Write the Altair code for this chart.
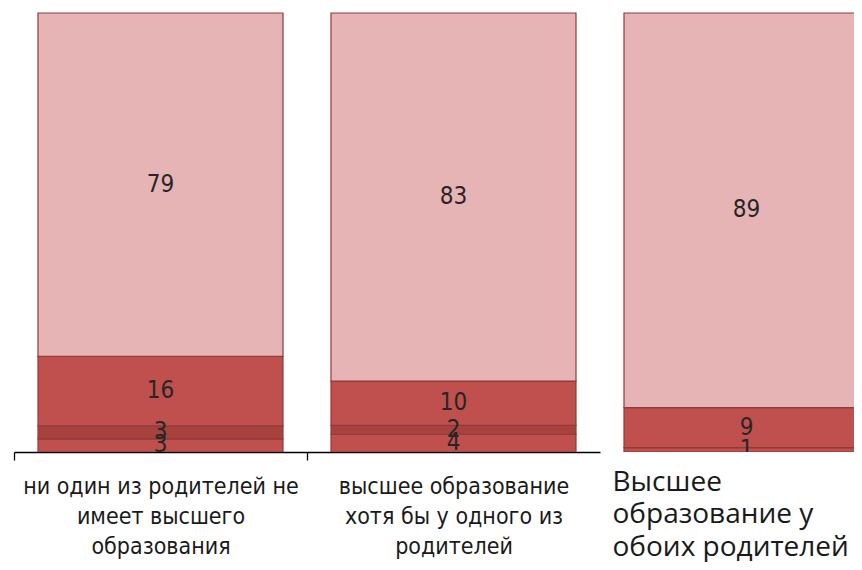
import altair as alt
import pandas as pd

# Categories (axis labels, "|" marks a line break)
categories = [
    "ни один из родителей не|имеет высшего|образования",
    "высшее образование|хотя бы у одного из|родителей",
    "Высшее|образование у|обоих родителей",
]
# Series from bottom to top of each bar
series = ["s1", "s2", "s3", "s4"]
s1 = [3, 4, 1]
s2 = [3, 2, 0]
s3 = [16, 10, 9]
s4 = [79, 83, 89]
colors = ["#C0504D", "#A8423F", "#C0504D", "#E6B4B5"]

rows = []
for i, c in enumerate(categories):
    for k, vals in enumerate([s1, s2, s3, s4]):
        rows.append({"cat": c, "series": series[k], "order": k, "value": vals[i]})
df = pd.DataFrame(rows)
df = df[df["value"] > 0]

NARROW = "DejaVu Sans Condensed, DejaVu Sans, sans-serif"
WIDE = "Open Sans, Liberation Sans, sans-serif"

PI = 48 / 293
PO = 24 / 293
xscale = alt.Scale(domain=categories, range=[6, 885], paddingInner=PI, paddingOuter=PO)
yscale = alt.Scale(domain=[0, 1], range=[444, 5], nice=False, zero=True)

base = (
    alt.Chart(df)
    .transform_joinaggregate(total="sum(value)", groupby=["cat"])
    .transform_window(cum="sum(value)", sort=[alt.SortField("order")], groupby=["cat"], frame=[None, 0])
    .transform_calculate(
        y0="(datum.cum - datum.value) / datum.total",
        y1="datum.cum / datum.total",
        ymid="(datum.cum - datum.value / 2) / datum.total",
    )
)

axis_a = alt.Axis(
    title=None, orient="bottom", domain=False, ticks=False, tickSize=0, grid=False,
    labelExpr=f"datum.value === '{categories[2]}' ? split(datum.value, '|') : ''",
    labelAlign="left", labelOffset=-134, labelAngle=0,
    labelFont=WIDE, labelFontSize=28, labelColor="#1a1a1a",
    labelLineHeight=32.5, labelBaseline="alphabetic", labelPadding=38,
    labelLimit=0, labelOverlap=False,
)

bars = base.mark_bar(stroke="#8E3B3A", strokeWidth=1.2, clip=True).encode(
    x=alt.X("cat:N", scale=xscale, sort=categories, axis=axis_a),
    y=alt.Y("y0:Q", scale=yscale, axis=None),
    y2="y1:Q",
    color=alt.Color("series:N", scale=alt.Scale(domain=series, range=colors), legend=None),
)

text12 = base.transform_filter(alt.FieldOneOfPredicate(field="cat", oneOf=categories[:2])).mark_text(
    font=NARROW, fontSize=24, color="#262626"
).encode(
    x=alt.X("cat:N", scale=xscale, sort=categories, axis=None),
    y=alt.Y("ymid:Q", scale=yscale, axis=None),
    text="value:Q",
)

text3 = base.transform_filter(alt.FieldEqualPredicate(field="cat", equal=categories[2])).mark_text(
    font=NARROW, fontSize=24, color="#262626", clip=True
).encode(
    x=alt.X("cat:N", scale=xscale, sort=categories, axis=None),
    y=alt.Y("ymid:Q", scale=yscale, axis=None),
    text="value:Q",
)

axis_b = alt.Axis(
    title=None, orient="bottom", grid=False,
    domainColor="#000000", domainWidth=1.3, tickColor="#000000", tickWidth=1.3, tickSize=8,
    tickOffset=-146.5, labelOffset=146.5,
    labelExpr="split(datum.value, '|')", labelAlign="center", labelAngle=0,
    labelFont=NARROW, labelFontSize=23, labelColor="#1a1a1a",
    labelLineHeight=30, labelBaseline="alphabetic", labelPadding=33,
    labelLimit=0, labelOverlap=False,
)

axis_layer = alt.Chart(pd.DataFrame({"cat": categories[:2]})).mark_tick(opacity=0).encode(
    x=alt.X(
        "cat:N", sort=categories[:2], axis=axis_b,
        scale=alt.Scale(domain=categories[:2], range=[6, 592], paddingInner=PI, paddingOuter=PO),
    )
)

chart = (
    alt.layer(bars, text12, text3, axis_layer)
    .resolve_scale(x="independent")
    .resolve_axis(x="independent")
    .properties(
        width=846, height=444,
        padding={"left": 0, "top": 0, "right": 0, "bottom": 110},
        autosize=alt.AutoSizeParams(type="none"),
    )
    .configure_view(stroke=None)
)

chart.save("out.html", embed_options={"renderer": "svg", "actions": False})
